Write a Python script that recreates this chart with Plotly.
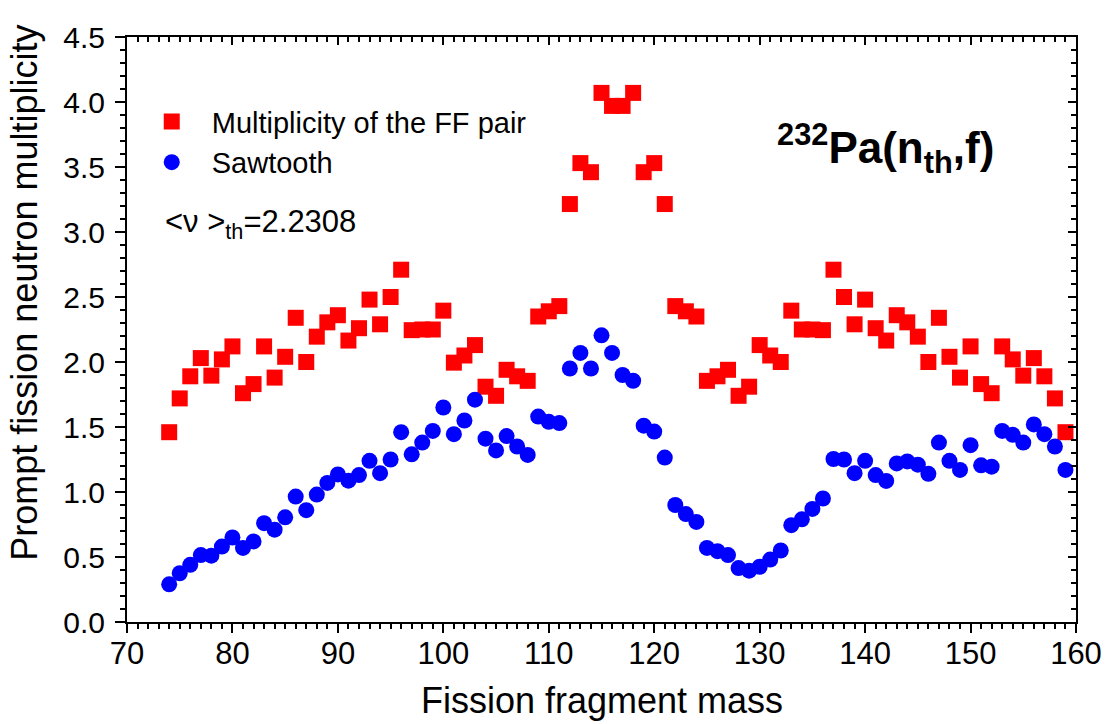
import plotly.graph_objects as go

# Fission fragment masses (light + heavy side) for 232Pa(n_th,f)
mass = list(range(74, 160))

# Prompt neutron multiplicity of the fragment pair (A, 233-A)
nu_pair = [
    1.46, 1.72, 1.89, 2.03, 1.895, 2.02, 2.12, 1.76, 1.83, 2.12,
    1.88, 2.04, 2.34, 2.00, 2.195, 2.305, 2.36, 2.165, 2.26, 2.48,
    2.29, 2.50, 2.71, 2.245, 2.25, 2.25, 2.395, 1.995, 2.05, 2.13,
    1.81, 1.74, 1.94, 1.89, 1.855, 2.35, 2.39, 2.43, 3.215, 3.53,
    3.46, 4.07, 3.97, 3.97, 4.07, 3.46, 3.53, 3.215, 2.43, 2.39,
    2.35, 1.855, 1.89, 1.94, 1.74, 1.81, 2.13, 2.05, 2.00, 2.395,
    2.25, 2.25, 2.245, 2.71, 2.50, 2.29, 2.48, 2.26, 2.165, 2.36,
    2.305, 2.195, 2.00, 2.34, 2.04, 1.88, 2.12, 1.83, 1.76, 2.12,
    2.02, 1.895, 2.03, 1.89, 1.72, 1.46,
]

# Sawtooth: prompt neutron multiplicity of the single fragment
nu_saw = [
    0.29, 0.375, 0.44, 0.515, 0.51, 0.58, 0.65, 0.57, 0.62, 0.76,
    0.71, 0.805, 0.965, 0.86, 0.98, 1.07, 1.135, 1.087, 1.13, 1.24,
    1.145, 1.25, 1.46, 1.29, 1.38, 1.47, 1.65, 1.445, 1.55, 1.71,
    1.41, 1.32, 1.43, 1.35, 1.285, 1.58, 1.54, 1.53, 1.95, 2.07,
    1.95, 2.205, 2.07, 1.90, 1.856, 1.51, 1.465, 1.265, 0.90, 0.83,
    0.77, 0.57, 0.545, 0.515, 0.415, 0.395, 0.425, 0.48, 0.55, 0.745,
    0.79, 0.87, 0.95, 1.254, 1.25, 1.145, 1.24, 1.13, 1.085, 1.22,
    1.235, 1.21, 1.14, 1.38, 1.24, 1.17, 1.36, 1.205, 1.195, 1.47,
    1.44, 1.38, 1.52, 1.445, 1.35, 1.17,
]

x_ticks = list(range(70, 161, 10))
y_ticks = [0.0, 0.5, 1.0, 1.5, 2.0, 2.5, 3.0, 3.5, 4.0, 4.5]

FONT = "Liberation Sans, Arial, sans-serif"

fig = go.Figure()
fig.add_trace(go.Scatter(
    x=mass, y=nu_pair, mode="markers", name="Multiplicity of the FF pair",
    marker=dict(symbol="square", size=16, color="#FF0000", line=dict(width=0)),
))
fig.add_trace(go.Scatter(
    x=mass, y=nu_saw, mode="markers", name="Sawtooth",
    marker=dict(symbol="circle", size=16, color="#0000FF", line=dict(width=0)),
))
# frame axes (top / right) carrying inward ticks
fig.add_trace(go.Scatter(x=[], y=[], xaxis="x2", yaxis="y2", showlegend=False))

axis_common = dict(showgrid=False, zeroline=False, showline=True,
                   linecolor="black", linewidth=2, tickcolor="black")

fig.update_layout(
    width=1114, height=724,
    margin=dict(l=127, r=35, t=37, b=102),
    paper_bgcolor="white", plot_bgcolor="white",
    font=dict(family=FONT, color="black"),
    xaxis=dict(
        **axis_common, range=[70, 160], tickvals=x_ticks,
        ticks="outside", ticklen=9, tickwidth=2,
        minor=dict(ticks="outside", dtick=1, ticklen=5, tickwidth=1.5, tickcolor="black"),
        tickfont=dict(size=31), ticklabelstandoff=-6,
    ),
    yaxis=dict(
        **axis_common, range=[0, 4.5], tickvals=y_ticks, tickformat=".1f",
        ticks="outside", ticklen=10, tickwidth=2,
        minor=dict(ticks="outside", dtick=0.1, ticklen=5, tickwidth=1.5, tickcolor="black"),
        tickfont=dict(size=30), ticklabelstandoff=4,
    ),
    xaxis2=dict(
        **axis_common, overlaying="x", matches="x", side="top", anchor="y",
        range=[70, 160], tickvals=x_ticks, showticklabels=False,
        ticks="inside", ticklen=8, tickwidth=2,
        minor=dict(ticks="inside", dtick=1, ticklen=5, tickwidth=1.5, tickcolor="black"),
    ),
    yaxis2=dict(
        **axis_common, overlaying="y", side="right", anchor="x",
        range=[0, 4.5], tickvals=y_ticks, showticklabels=False,
        ticks="inside", ticklen=8, tickwidth=2,
        minor=dict(ticks="inside", dtick=0.1, ticklen=5, tickwidth=1.5, tickcolor="black"),
    ),
    legend=dict(
        x=0.005, y=0.899, xanchor="left", yanchor="top",
        bgcolor="rgba(0,0,0,0)", font=dict(size=29),
        itemwidth=70, tracegroupgap=0,
    ),
    showlegend=True,
)

# axis titles
fig.add_annotation(
    xref="paper", yref="paper", x=0.5, y=-0.135, xanchor="center", yanchor="middle",
    text="Fission fragment mass", showarrow=False,
    font=dict(size=36, family=FONT, color="black"),
)
fig.add_annotation(
    xref="paper", yref="paper", x=-0.108, y=0.562, xanchor="center", yanchor="middle",
    text="Prompt fission neutron multiplicity", showarrow=False, textangle=-90,
    font=dict(size=36, family=FONT, color="black"),
)

fig.add_annotation(
    xref="paper", yref="paper", x=0.038, y=0.68, xanchor="left", yanchor="middle",
    text="&lt;ν &gt;<sub>th</sub>=2.2308", showarrow=False,
    font=dict(size=31, family=FONT, color="black"),
)
fig.add_annotation(
    xref="paper", yref="paper", x=0.683, y=0.81, xanchor="left", yanchor="middle",
    text="<b><sup>232</sup>Pa(n<sub>th</sub>,f)</b>", showarrow=False,
    font=dict(size=44, family=FONT, color="black"),
)

fig.write_html("out.html")
